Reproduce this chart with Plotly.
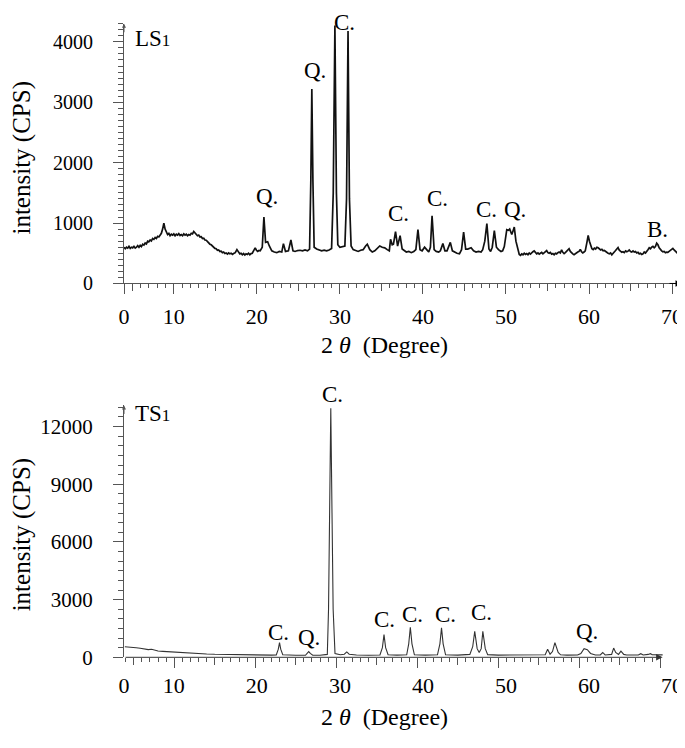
import plotly.graph_objects as go

# LS1 scan (2theta deg / CPS) in three stretches
ls1_x_hump = [4.0, 4.15, 4.3, 4.45, 4.6, 4.75, 4.9, 5.05, 5.2, 5.35,
              5.5, 5.65, 5.8, 5.95, 6.1, 6.25, 6.4, 6.55, 6.7, 6.85,
              7.0, 7.15, 7.3, 7.45, 7.6, 7.75, 7.9, 8.05, 8.2, 8.35,
              8.5, 8.65, 8.8, 8.95, 9.1, 9.25, 9.4, 9.55, 9.7, 9.85,
              10.0, 10.15, 10.3, 10.45, 10.6, 10.75, 10.9, 11.05, 11.2, 11.35,
              11.5, 11.65, 11.8, 11.95, 12.1, 12.25, 12.4, 12.55, 12.7, 12.85,
              13.0, 13.15, 13.3, 13.45, 13.6, 13.75, 13.9, 14.05, 14.2, 14.35,
              14.5, 14.65, 14.8, 14.95, 15.1, 15.25, 15.4, 15.55, 15.7, 15.85,
              16.0, 16.15, 16.3, 16.45, 16.6, 16.75, 16.9, 17.05, 17.2, 17.4,
              17.6, 17.8, 17.95, 18.1, 18.25, 18.4, 18.55, 18.7, 18.85, 19.0,
              19.15, 19.3, 19.45, 19.6, 19.8, 19.95, 20.1, 20.25, 20.4]
ls1_y_hump = [600, 575, 600, 585, 615, 580, 600, 590, 615, 585,
              600, 625, 600, 630, 610, 650, 635, 670, 655, 700,
              690, 720, 705, 745, 730, 760, 745, 780, 770, 800,
              830, 900, 1000, 900, 840, 810, 830, 790, 815, 800,
              820, 790, 815, 800, 825, 795, 810, 790, 820, 800,
              815, 790, 810, 800, 830, 820, 860, 830, 810, 790,
              800, 770, 775, 745, 750, 720, 715, 690, 680, 650,
              640, 615, 605, 580, 575, 550, 555, 530, 535, 510,
              520, 495, 505, 485, 505, 490, 500, 480, 495, 510,
              560, 520, 490, 500, 475, 495, 470, 490, 480, 500,
              475, 495, 500, 540, 590, 550, 530, 545, 540]

ls1_x_mid = [20.65, 20.85, 21.05, 21.3, 21.5, 21.8, 22.1, 22.4, 22.7, 23.0,
             23.2, 23.45, 23.8, 24.1, 24.35, 24.6, 24.9, 25.2, 25.5, 25.8,
             26.1, 26.35, 26.5, 26.62, 26.75, 26.9, 27.2, 27.5, 27.8, 28.1,
             28.4, 28.7, 29.0, 29.2, 29.4, 29.58, 29.75, 30.0, 30.3, 30.6,
             30.8, 30.98, 31.15, 31.35, 31.6, 31.9, 32.2, 32.5, 32.8, 33.1,
             33.3, 33.6, 33.9, 34.2, 34.5, 34.8, 35.1, 35.4, 35.7, 35.95,
             36.1, 36.3, 36.45, 36.7, 36.95, 37.25, 37.5, 37.75, 38.0, 38.3,
             38.6, 38.9, 39.15, 39.4, 39.65, 39.9, 40.2, 40.45, 40.7, 40.9,
             41.1, 41.35, 41.6, 41.9, 42.1, 42.4, 42.65, 42.9, 43.3, 43.55,
             43.8, 44.1, 44.4, 44.65, 44.9, 45.15, 45.4, 45.8, 46.1, 46.4,
             46.7, 47.0, 47.2, 47.45, 47.7, 47.95, 48.15, 48.35, 48.6, 48.85,
             49.1, 49.4, 49.6, 49.8, 50.1, 50.3, 50.45, 50.7, 50.85, 51.0,
             51.2]
ls1_y_mid = [600, 1100, 680, 690, 620, 540, 520, 510, 530, 520,
             660, 530, 540, 720, 540, 530, 545, 550, 540, 555,
             540, 570, 1700, 3220, 1700, 600, 570, 550, 540, 550,
             540, 555, 580, 1500, 4270, 1500, 640, 600, 610, 620,
             1400, 4180, 1400, 620, 560, 540, 530, 550, 560, 620,
             650, 560, 520, 540, 580, 620, 600, 590, 560, 540,
             730, 640, 650, 860, 620, 790, 570, 540, 520, 530,
             510, 530, 560, 890, 560, 540, 600, 560, 520, 600,
             1120, 560, 530, 520, 540, 660, 540, 540, 680, 540,
             520, 500, 490, 560, 850, 570, 570, 590, 540, 520,
             530, 520, 560, 700, 990, 570, 530, 600, 875, 600,
             560, 530, 540, 610, 890, 880, 900, 810, 870, 935,
             700]

ls1_x_tail = [51.45, 51.6, 51.75, 51.9, 52.05, 52.2, 52.35, 52.5, 52.65, 52.8,
              52.95, 53.1, 53.25, 53.4, 53.55, 53.7, 53.85, 54.0, 54.15, 54.3,
              54.45, 54.6, 54.75, 54.9, 55.05, 55.2, 55.35, 55.5, 55.65, 55.8,
              55.95, 56.1, 56.25, 56.4, 56.55, 56.7, 56.85, 57.0, 57.15, 57.3,
              57.45, 57.6, 57.75, 57.9, 58.05, 58.2, 58.35, 58.5, 58.65, 58.8,
              58.95, 59.1, 59.25, 59.4, 59.55, 59.75, 59.9, 60.05, 60.2, 60.35,
              60.5, 60.65, 60.8, 60.95, 61.1, 61.25, 61.4, 61.55, 61.7, 61.85,
              62.0, 62.15, 62.3, 62.45, 62.6, 62.75, 62.9, 63.05, 63.2, 63.35,
              63.5, 63.65, 63.8, 63.95, 64.1, 64.25, 64.4, 64.55, 64.7, 64.85,
              65.0, 65.15, 65.3, 65.45, 65.6, 65.75, 65.9, 66.05, 66.2, 66.35,
              66.5, 66.65, 66.8, 66.95, 67.1, 67.25, 67.4, 67.55, 67.7, 67.85,
              68.0, 68.15, 68.3, 68.45, 68.6, 68.75, 68.9, 69.05, 69.2, 69.35,
              69.5, 69.65, 69.8, 69.95, 70.1, 70.25, 70.4, 70.55, 70.7, 70.85,
              71.0]
ls1_y_tail = [540, 480, 465, 490, 475, 500, 480, 495, 475, 505,
              485, 510, 525, 540, 505, 490, 505, 485, 500, 515,
              490, 505, 520, 545, 510, 500, 515, 485, 495, 475,
              500, 490, 510, 520, 505, 555, 515, 495, 510, 530,
              545, 575, 530, 505, 490, 475, 495, 500, 520, 530,
              565, 525, 505, 520, 540, 680, 795, 700, 610, 575,
              560, 585, 570, 600, 590, 575, 555, 565, 540, 545,
              525, 515, 500, 490, 505, 475, 495, 510, 545, 570,
              595, 550, 530, 515, 525, 510, 540, 525, 535, 555,
              530, 520, 540, 520, 530, 505, 515, 490, 500, 480,
              490, 520, 505, 545, 560, 590, 575, 600, 615, 590,
              610, 665, 640, 590, 555, 540, 525, 530, 510, 520,
              515, 530, 545, 560, 580, 555, 530, 510, 495, 480,
              465]

# TS1 scan, bottom panel
ts1_2theta = [3.9, 4.3, 4.8, 5.3, 5.8, 6.3, 6.8, 7.2, 7.6, 8.0, 8.6, 9.2, 10.0, 11.0, 12.0, 13.0,
              14.0, 15.0, 16.0, 17.0, 18.0, 19.0, 20.0, 21.0, 22.0, 22.6, 22.85, 23.0, 23.15, 23.4,
              24.0, 25.0, 26.2, 26.45, 26.6, 26.8, 27.1, 28.0, 28.9, 29.05, 29.18, 29.33, 29.48,
              29.62, 29.85, 30.5, 31.0, 31.3, 31.6, 32.5, 34.0, 35.4, 35.7, 35.9, 36.1, 36.4, 37.5,
              38.7, 38.95, 39.15, 39.35, 39.65, 41.0, 42.5, 42.8, 43.0, 43.2, 43.5, 45.0, 46.5,
              46.85, 47.1, 47.4, 47.65, 47.9, 48.1, 48.4, 48.7, 50.0, 52.0, 54.0, 55.8, 56.1, 56.4,
              56.7, 57.0, 57.4, 57.7, 58.5, 59.8, 60.2, 60.6, 61.0, 61.4, 62.0, 62.6, 62.9, 63.2,
              64.0, 64.25, 64.5, 64.85, 65.15, 65.5, 65.85, 66.5, 67.3, 67.6, 67.9, 68.5, 68.8,
              69.0, 69.3, 69.8, 70.3]
ts1_cps = [550, 545, 520, 500, 470, 440, 400, 420, 360, 330, 310, 290, 275, 240, 210, 185,
           170, 155, 145, 138, 130, 125, 120, 118, 115, 120, 420, 760, 420, 130,
           112, 105, 105, 200, 300, 200, 110, 110, 150, 2500, 7500, 12950, 7500,
           2500, 200, 130, 160, 280, 160, 120, 110, 120, 500, 1180, 500, 130, 115,
           130, 700, 1560, 700, 130, 115, 130, 700, 1530, 700, 130, 115, 150,
           550, 1350, 450, 250, 450, 1350, 450, 140, 115, 110, 110, 130, 420, 160,
           300, 760, 250, 130, 115, 120, 200, 450, 400, 200, 120, 125, 250, 120,
           150, 480, 250, 150, 320, 150, 120, 110, 120, 190, 120, 150, 190,
           130, 120, 110, 125]

# phase labels (C. calcite, Q. quartz, B.); None = above the axis top, set in domain units
ls1_lbl_text = ["Q.", "Q.", "C.", "C.", "C.", "C.", "Q.", "B."]
ls1_lbl_x = [21.2, 27.0, 30.5, 37.0, 41.7, 47.7, 51.1, 68.3]
ls1_lbl_y = [1434, 3520, None, 1157, 1402, 1222, 1222, 897]
ts1_lbl_text = ["C.", "Q.", "C.", "C.", "C.", "C.", "C.", "Q."]
ts1_lbl_x = [22.9, 26.7, 29.6, 36.0, 39.4, 43.5, 47.9, 61.0]
ts1_lbl_y = [1283, 1050, None, 1950, 2206, 2206, 2308, 1334]

x_tick_text = ["0", "10", "20", "30", "40", "50", "60", "70"]
x_tick_vals = [4, 10, 20, 30, 40, 50, 60, 70]
ts1_long_ticks = [10, 20, 30, 40, 50, 60, 70]
mid_ticks = [5, 15, 25, 35, 45, 55, 65]
ts1_minor_ticks = list(range(4, 71))
ls1_y_ticks = [0, 1000, 2000, 3000, 4000]
ts1_y_ticks = [0, 3000, 6000, 9000, 12000]

ls1_range = [4, 71.2]
ts1_end = 70.3

ls1_2theta = ls1_x_hump + ls1_x_mid + ls1_x_tail
ls1_cps = ls1_y_hump + ls1_y_mid + ls1_y_tail
assert len(ls1_2theta) == len(ls1_cps)
assert len(ts1_2theta) == len(ts1_cps)

FONT = "Liberation Serif"
AX = "#555555"

# page body has an 8px margin, so lay out in page pixels minus 8
OFF = 8
W, H = 685 - OFF, 748 - OFF
L, R = 124 - OFF, 3
pw = W - L - R
# the lower scan is drawn a bit tighter (8.1 px/deg) than the labels under it
ts1_range = [3.8, 3.8 + pw / 8.1]


def py(screen_y):
    return (H - (screen_y - OFF)) / H


fig = go.Figure()
fig.add_trace(go.Scatter(x=ls1_2theta, y=ls1_cps, mode="lines",
                         line=dict(color="#111111", width=1.7), xaxis="x", yaxis="y"))
fig.add_trace(go.Scatter(x=ts1_2theta, y=ts1_cps, mode="lines",
                         line=dict(color="#333333", width=1.1), xaxis="x4", yaxis="y2"))
# empty traces so the overlay tick axes get drawn
fig.add_trace(go.Scatter(x=[None], y=[None], xaxis="x3", yaxis="y"))
fig.add_trace(go.Scatter(x=[None], y=[None], xaxis="x2", yaxis="y2"))
fig.add_trace(go.Scatter(x=[None], y=[None], xaxis="x5", yaxis="y2"))

tick_font = dict(family=FONT, size=22, color="black")
mid_common = dict(showgrid=False, zeroline=False, showline=False, showticklabels=False,
                  ticks="outside", ticklen=7, tickcolor=AX, tickvals=mid_ticks)
ycommon = dict(showgrid=False, zeroline=False, showline=True, linecolor=AX, linewidth=1,
               ticks="outside", ticklen=10, tickcolor=AX, ticklabelstandoff=16)

fig.update_layout(
    width=W, height=H,
    margin=dict(l=L, r=R, t=0, b=0),
    paper_bgcolor="white", plot_bgcolor="white",
    showlegend=False,
    # top panel
    xaxis=dict(showgrid=False, zeroline=False, showline=True, linecolor=AX, linewidth=1,
               ticks="outside", ticklen=10, tickcolor=AX, tickvals=x_tick_vals,
               ticktext=x_tick_text, tickfont=tick_font, ticklabelstandoff=3,
               ticklabeloverflow="allow", range=ls1_range, anchor="y", domain=[0, 1],
               minor=dict(ticks="outside", ticklen=4, dtick=1, tick0=0, tickcolor=AX)),
    xaxis3=dict(mid_common, range=ls1_range, overlaying="x", anchor="y"),
    yaxis=dict(ycommon, range=[0, 4300], tickvals=ls1_y_ticks,
               ticktext=[str(v) for v in ls1_y_ticks],
               tickfont=dict(family=FONT, size=20, color="black"),
               minor=dict(ticks="outside", ticklen=5, dtick=100, tickcolor=AX),
               domain=[py(288), py(24)], anchor="x"),
    # bottom panel: x2 carries only the labels, x4 the scan and the tick marks
    xaxis2=dict(showgrid=False, zeroline=False, showline=False, ticks="",
                tickvals=x_tick_vals, ticktext=x_tick_text, tickfont=tick_font,
                ticklabelstandoff=13, ticklabeloverflow="allow", range=ls1_range,
                anchor="y2", domain=[0, 1]),
    xaxis4=dict(showgrid=False, zeroline=False, showline=False, showticklabels=False,
                ticks="outside", ticklen=10, tickcolor=AX, tickvals=ts1_long_ticks,
                minor=dict(ticks="outside", ticklen=4, tickvals=ts1_minor_ticks, tickcolor=AX),
                range=ts1_range, overlaying="x2", anchor="y2"),
    xaxis5=dict(mid_common, range=ts1_range, overlaying="x2", anchor="y2"),
    yaxis2=dict(ycommon, range=[0, 13100], tickvals=ts1_y_ticks,
                ticktext=[str(v) for v in ts1_y_ticks],
                tickfont=dict(family=FONT, size=21, color="black"),
                minor=dict(ticks="outside", ticklen=5, dtick=500, tickcolor=AX),
                domain=[py(668), py(412)], anchor="x2"),
)

lbl_font = dict(family=FONT, size=23, color="black")
ann = []
# the label over the tallest LS1 peaks is pinned to the very top of the figure
for xr, yr, texts, xs, ys, top, anc in [
        ("x", "y", ls1_lbl_text, ls1_lbl_x, ls1_lbl_y, 1 + 16 / 264, "top"),
        ("x4", "y2", ts1_lbl_text, ts1_lbl_x, ts1_lbl_y, 1.045, "middle")]:
    for t, x, y in zip(texts, xs, ys):
        if y is None:
            ann.append(dict(text=t, x=x, y=top, xref=xr, yref=yr + " domain",
                            yanchor=anc, showarrow=False, font=lbl_font))
        else:
            ann.append(dict(text=t, x=x, y=y, xref=xr, yref=yr, showarrow=False, font=lbl_font))

# sample names
ann.append(dict(text="LS<span style='font-size:17px'>1</span>", x=5.1, y=4060, xref="x", yref="y",
                xanchor="left", yanchor="middle", showarrow=False, font=lbl_font))
ann.append(dict(text="TS<span style='font-size:17px'>1</span>", x=4.9, y=12670, xref="x4",
                yref="y2", xanchor="left", yanchor="middle", showarrow=False, font=lbl_font))

# axis titles
for yc in [160, 543]:
    ann.append(dict(text="intensity (CPS)", x=(22 - 124) / pw, y=py(yc), xref="paper",
                    yref="paper", xanchor="center", yanchor="middle", textangle=-90,
                    showarrow=False, font=dict(family=FONT, size=25, color="black")))
for yc in [351, 729]:
    ann.append(dict(text="2 <i>θ</i>&nbsp; (Degree)", x=(384 - 124) / pw, y=py(yc),
                    xref="paper", yref="paper", xanchor="center", yanchor="middle",
                    showarrow=False, font=dict(family=FONT, size=24, color="black")))

# axis arrows (the lower x axis line is the arrow shaft itself)
ann.append(dict(x=ls1_range[1], y=0, xref="x", yref="y", ax=-14, ay=0, text="", showarrow=True,
                arrowhead=2, arrowsize=1.3, arrowwidth=1, arrowcolor="black"))
ann.append(dict(x=ts1_end, y=0, xref="x4", yref="y2", ax=ts1_range[0], ay=0, axref="x4",
                ayref="y2", text="", showarrow=True, arrowhead=2, arrowsize=1.3,
                arrowwidth=1, arrowcolor="#333333"))
ann.append(dict(x=ls1_range[0], y=4300, xref="x", yref="y", ax=0, ay=10, text="",
                showarrow=True, arrowhead=2, arrowsize=0.8, arrowwidth=1, arrowcolor=AX))
ann.append(dict(x=ts1_range[0], y=13100, xref="x4", yref="y2", ax=0, ay=10, text="",
                showarrow=True, arrowhead=2, arrowsize=0.8, arrowwidth=1, arrowcolor=AX))

fig.update_layout(annotations=ann)
fig.write_html("out.html")
